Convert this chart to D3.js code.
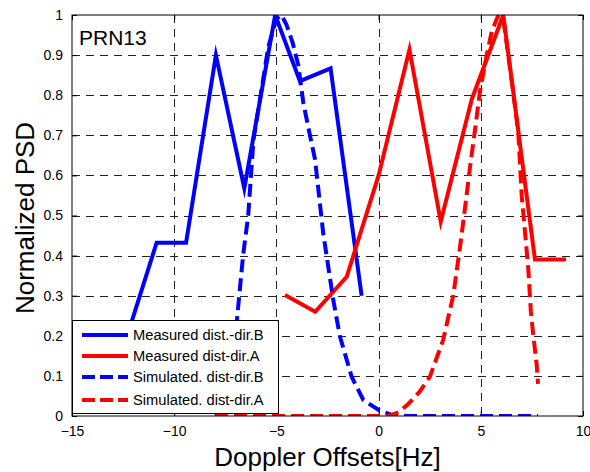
<!DOCTYPE html>
<html>
<head>
<meta charset="utf-8">
<script src="https://cdn.jsdelivr.net/npm/d3@7"></script>
<style>
  body { margin: 0; background: #fff; }
  svg { display: block; }
  text { font-family: "Liberation Sans", Arial, sans-serif; fill: #000; }
</style>
</head>
<body>
<svg id="chart" width="590" height="472"></svg>
<script>
// Doppler offset (Hz) and normalized PSD for each series
const measuredBx = [-12.3, -10.86, -9.42, -7.96, -6.57, -5.06, -3.85, -2.35, -0.83];
const measuredBy = [0.20, 0.432, 0.432, 0.90, 0.568, 1.0, 0.835, 0.867, 0.30];

const measuredAx = [-4.58, -3.1, -1.56, 0.0, 1.51, 3.04, 4.56, 6.1, 7.65, 9.17];
const measuredAy = [0.302, 0.26, 0.347, 0.60, 0.914, 0.485, 0.79, 1.0, 0.39, 0.39];

const simulatedBx = [-8.0, -7.5, -7.2, -6.93, -6.63, -6.38, -6.12, -5.8, -5.4, -5.0, -4.75, -4.5, -4.2,
                     -3.93, -3.68, -3.4, -3.11, -2.71, -2.22, -1.89, -1.32, -0.75, 0.0, 0.64, 1.5, 3.0, 5.0, 7.8];
const simulatedBy = [0.0, 0.01, 0.06, 0.24, 0.40, 0.50, 0.69, 0.79, 0.92, 0.99, 1.0, 0.975, 0.93,
                     0.875, 0.78, 0.71, 0.64, 0.456, 0.29, 0.198, 0.098, 0.04, 0.015, 0.003, 0.0, 0.0, 0.0, 0.0];

const simulatedAx = [-8.0, 0.5, 1.0, 1.45, 2.0, 2.51, 3.16, 3.65, 3.98, 4.23, 4.47, 4.72, 4.96, 5.29,
                     5.53, 5.86, 6.1, 6.45, 6.83, 7.0, 7.32, 7.45, 7.57, 7.73, 7.8];
const simulatedAy = [0.0, 0.0, 0.01, 0.03, 0.06, 0.098, 0.19, 0.30, 0.42, 0.52, 0.62, 0.715, 0.81, 0.90,
                     0.958, 1.0, 0.99, 0.86, 0.71, 0.55, 0.37, 0.26, 0.2, 0.13, 0.08];

const seriesNames = ["Measured dist.-dir.B", "Measured dist-dir.A", "Simulated. dist-dir.B", "Simulated. dist-dir.A"];
const seriesColors = ["#0000ff", "#ff0000", "#0000ff", "#ff0000"];
const seriesDashed = [false, false, true, true];

const xTicks = [-15, -10, -5, 0, 5, 10];
const yTicks = [0, 0.1, 0.2, 0.3, 0.4, 0.5, 0.6, 0.7, 0.8, 0.9, 1];
const yTickLabels = ["0", "0.1", "0.2", "0.3", "0.4", "0.5", "0.6", "0.7", "0.8", "0.9", "1"];

const panelLabel = "PRN13";
const xTitle = "Doppler Offsets[Hz]";
const yTitle = "Normalized PSD";

const svg = d3.select("#chart");
const plotLeft = 72, plotRight = 583, plotTop = 15, plotBottom = 416;

const x = d3.scaleLinear().domain([-15, 10]).range([plotLeft, plotRight]);
const y = d3.scaleLinear().domain([0, 1]).range([plotBottom, plotTop]);

// clip region of the axes box
svg.append("defs").append("clipPath").attr("id", "plotClip")
  .append("rect").attr("x", plotLeft).attr("y", plotTop)
  .attr("width", plotRight - plotLeft).attr("height", plotBottom - plotTop);

// dashed grid
const grid = svg.append("g").attr("stroke", "#222").attr("stroke-width", 1).attr("stroke-dasharray", "8,6");
grid.selectAll("line.v").data(xTicks.slice(1, -1)).join("line")
  .attr("x1", d => Math.round(x(d)) + 0.5).attr("x2", d => Math.round(x(d)) + 0.5)
  .attr("y1", plotTop).attr("y2", plotBottom);
grid.selectAll("line.h").data(yTicks.slice(1, -1)).join("line")
  .attr("y1", d => Math.round(y(d)) + 0.5).attr("y2", d => Math.round(y(d)) + 0.5)
  .attr("x1", plotLeft).attr("x2", plotRight);

// axes with inward ticks on all four sides
const fontSize = 14;
svg.append("g").attr("transform", `translate(0,${plotBottom})`)
  .call(d3.axisBottom(x).tickValues(xTicks).tickFormat(d3.format("d")).tickSizeInner(-5).tickSizeOuter(0).tickPadding(10));
svg.append("g").attr("transform", `translate(${plotLeft},0)`)
  .call(d3.axisLeft(y).tickValues(yTicks).tickFormat((d, i) => yTickLabels[i]).tickSizeInner(-5).tickSizeOuter(0).tickPadding(9));
svg.append("g").attr("transform", `translate(0,${plotTop})`)
  .call(d3.axisTop(x).tickValues(xTicks).tickFormat("").tickSizeInner(-5).tickSizeOuter(0));
svg.append("g").attr("transform", `translate(${plotRight},0)`)
  .call(d3.axisRight(y).tickValues(yTicks).tickFormat("").tickSizeInner(-5).tickSizeOuter(0));
svg.selectAll(".domain").remove();
svg.selectAll(".tick line").attr("stroke", "#000");
svg.selectAll(".tick text").attr("font-size", fontSize).attr("font-family", "Liberation Sans, Arial, sans-serif").attr("fill", "#000");

// series lines
const line = d3.line().x(d => x(d[0])).y(d => y(d[1]));
const seriesData = [
  d3.zip(measuredBx, measuredBy),
  d3.zip(measuredAx, measuredAy),
  d3.zip(simulatedBx, simulatedBy),
  d3.zip(simulatedAx, simulatedAy)
];
const plot = svg.append("g").attr("clip-path", "url(#plotClip)");
seriesData.forEach((pts, i) => {
  plot.append("path").datum(pts)
    .attr("d", line)
    .attr("fill", "none")
    .attr("stroke", seriesColors[i])
    .attr("stroke-width", 4)
    .attr("stroke-linejoin", "miter")
    .attr("stroke-miterlimit", 10)
    .attr("stroke-dasharray", seriesDashed[i] ? "13,6" : null);
});

// axes box
svg.append("rect").attr("x", plotLeft).attr("y", plotTop)
  .attr("width", plotRight - plotLeft).attr("height", plotBottom - plotTop)
  .attr("fill", "none").attr("stroke", "#000").attr("stroke-width", 1);

// panel label
svg.append("text").attr("x", 79).attr("y", 45).attr("font-size", 21).text(panelLabel);

// axis titles
svg.append("text").attr("x", (plotLeft + plotRight) / 2).attr("y", 466).attr("text-anchor", "middle")
  .attr("font-size", 26).text(xTitle);
svg.append("text").attr("transform", `translate(34,218) rotate(-90)`)
  .attr("text-anchor", "middle").attr("font-size", 26).text(yTitle);

// legend
const lg = svg.append("g");
lg.append("rect").attr("x", 72.5).attr("y", 320.5).attr("width", 206).attr("height", 93)
  .attr("fill", "#fff").attr("stroke", "#000").attr("stroke-width", 1);
const rowY = [335, 356, 377, 400];
seriesNames.forEach((name, i) => {
  lg.append("line").attr("x1", 82).attr("x2", 128).attr("y1", rowY[i]).attr("y2", rowY[i])
    .attr("stroke", seriesColors[i]).attr("stroke-width", 4)
    .attr("stroke-dasharray", seriesDashed[i] ? "13,5" : null);
  lg.append("text").attr("x", 133).attr("y", rowY[i]).attr("dy", "0.35em")
    .attr("font-size", 14.7).text(name);
});
</script>
</body>
</html>
